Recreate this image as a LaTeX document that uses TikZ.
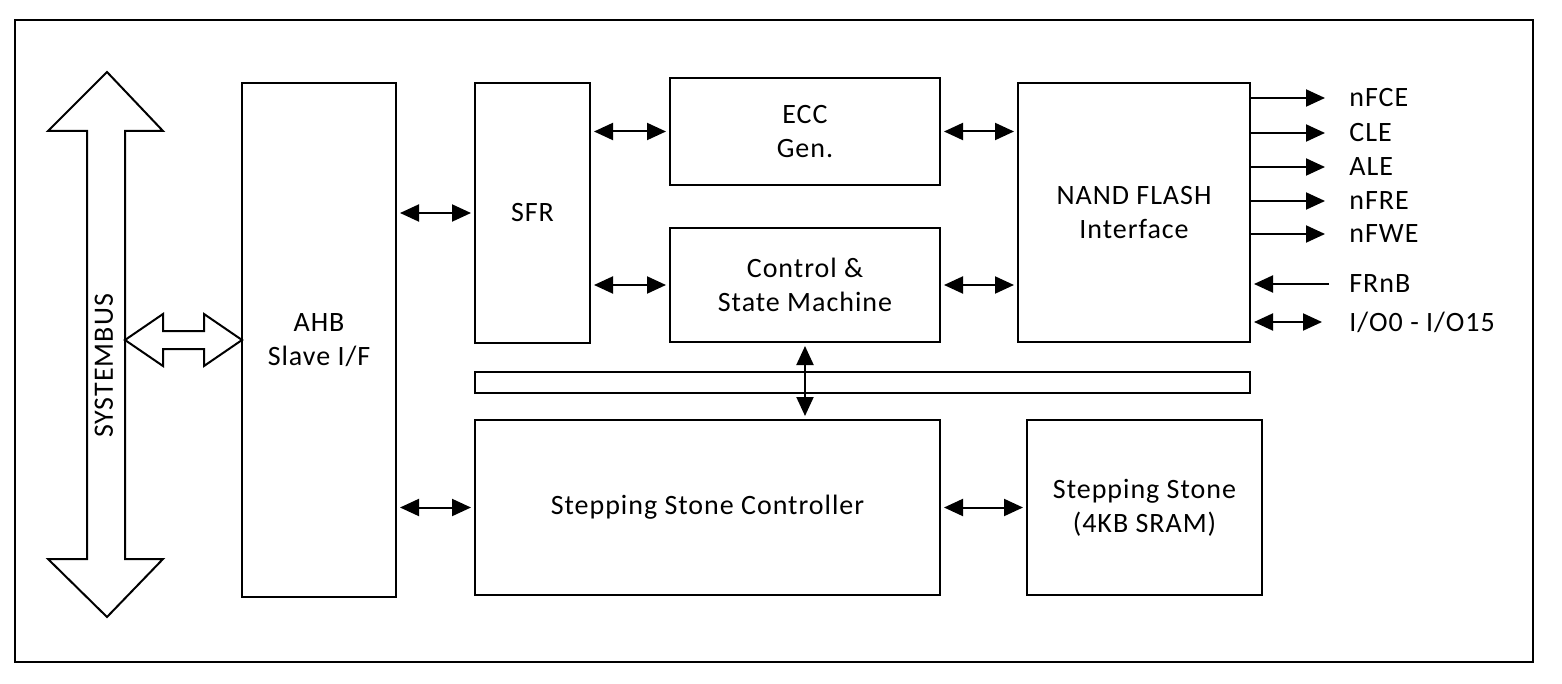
\documentclass[tikz,border=0pt]{standalone}
\usepackage{fontspec}
\setmainfont{Carlito}[LetterSpace=3.5]
\usetikzlibrary{arrows.meta,calc}
\begin{document}
\begin{tikzpicture}[x=0.5pt,y=-0.5pt,
  blk/.style={draw,line width=1pt,inner sep=0pt,font=\fontsize{14}{17}\selectfont,align=center},
  sig/.style={anchor=west,inner sep=0pt,font=\fontsize{14}{17}\selectfont},
  link/.style={line width=1pt,{Triangle[length=9.5pt,width=8.5pt]}-{Triangle[length=9.5pt,width=8.5pt]},shorten <=1.5pt,shorten >=1.5pt},
  sigarrow/.style={line width=1pt,-{Triangle[length=9.5pt,width=8.5pt]}},
  hollow/.style={draw,line width=1pt,fill=white,line join=miter}]
\useasboundingbox (0,0) rectangle (1562,684);
\node[draw,line width=1pt,minimum width=759pt,minimum height=321pt,inner sep=0pt] (frame) at (774,341) {};
% system bus arrow
\draw[hollow] (107,72) -- (163,131) -- (125,131) -- (125,559) -- (163,559) -- (107,617)
  -- (48,559) -- (87,559) -- (87,131) -- (48,131) -- cycle;
\node[rotate=90,font=\fontsize{14}{17}\selectfont,inner sep=0pt] (sysbus) at (104,366) {SYSTEMBUS};
\draw[hollow] (125,340) -- (163,314) -- (163,331) -- (204,331) -- (204,314) -- (242,340)
  -- (204,366) -- (204,349) -- (163,349) -- (163,366) -- cycle;
% blocks
\node[blk,minimum width=77pt,minimum height=257pt] (ahb) at (319,340) {AHB\\Slave I/F};
\node[blk,minimum width=57.5pt,minimum height=130pt] (sfr) at (532.5,213) {SFR};
\node[blk,minimum width=135pt,minimum height=53.5pt] (ecc) at (805,131.5) {ECC\\Gen.};
\node[blk,minimum width=135pt,minimum height=57pt] (ctrl) at (805,285) {Control \&\\State Machine};
\node[blk,minimum width=116pt,minimum height=129.5pt] (nand) at (1134,212.5) {NAND FLASH\\Interface};
\node[blk,minimum width=387.5pt,minimum height=10.5pt] (bar) at (862.5,382.5) {};
\node[blk,minimum width=232.5pt,minimum height=87.5pt] (ssc) at (707.5,507.5) {Stepping Stone Controller};
\node[blk,minimum width=117.5pt,minimum height=87.5pt] (sram) at (1144.5,507.5) {Stepping Stone\\(4KB SRAM)};
% links
\draw[link] (sfr.west -| ahb.east) -- (sfr.west);
\draw[link] (ssc.west -| ahb.east) -- (ssc.west);
\draw[link] (ecc.west -| sfr.east) -- (ecc.west);
\draw[link] (ctrl.west -| sfr.east) -- (ctrl.west);
\draw[link] (ecc.east) -- (ecc.east -| nand.west);
\draw[link] (ctrl.east) -- (ctrl.east -| nand.west);
\draw[link] (ssc.east) -- (sram.west);
\draw[link] (ctrl.south) -- (ctrl.south |- ssc.north);
% signals
\node[sig] (nfce) at (1349,98) {nFCE};
\node[sig] (cle) at (1349,133) {CLE};
\node[sig] (ale) at (1349,167) {ALE};
\node[sig] (nfre) at (1349,201) {nFRE};
\node[sig] (nfwe) at (1349,234) {nFWE};
\node[sig] (frnb) at (1349,284) {FRnB};
\node[sig] (io) at (1349,322) {I/O0 - I/O15};
\foreach \s in {nfce,cle,ale,nfre,nfwe}
  \draw[sigarrow] (nand.east |- \s.west) -- ($(\s.west)+(-24,0)$);
\draw[sigarrow,shorten >=1.5pt] ($(frnb.west)+(-20,0)$) -- (nand.east |- frnb.west);
\draw[link] (nand.east |- io.west) -- ($(io.west)+(-24,0)$);
\end{tikzpicture}
\end{document}
